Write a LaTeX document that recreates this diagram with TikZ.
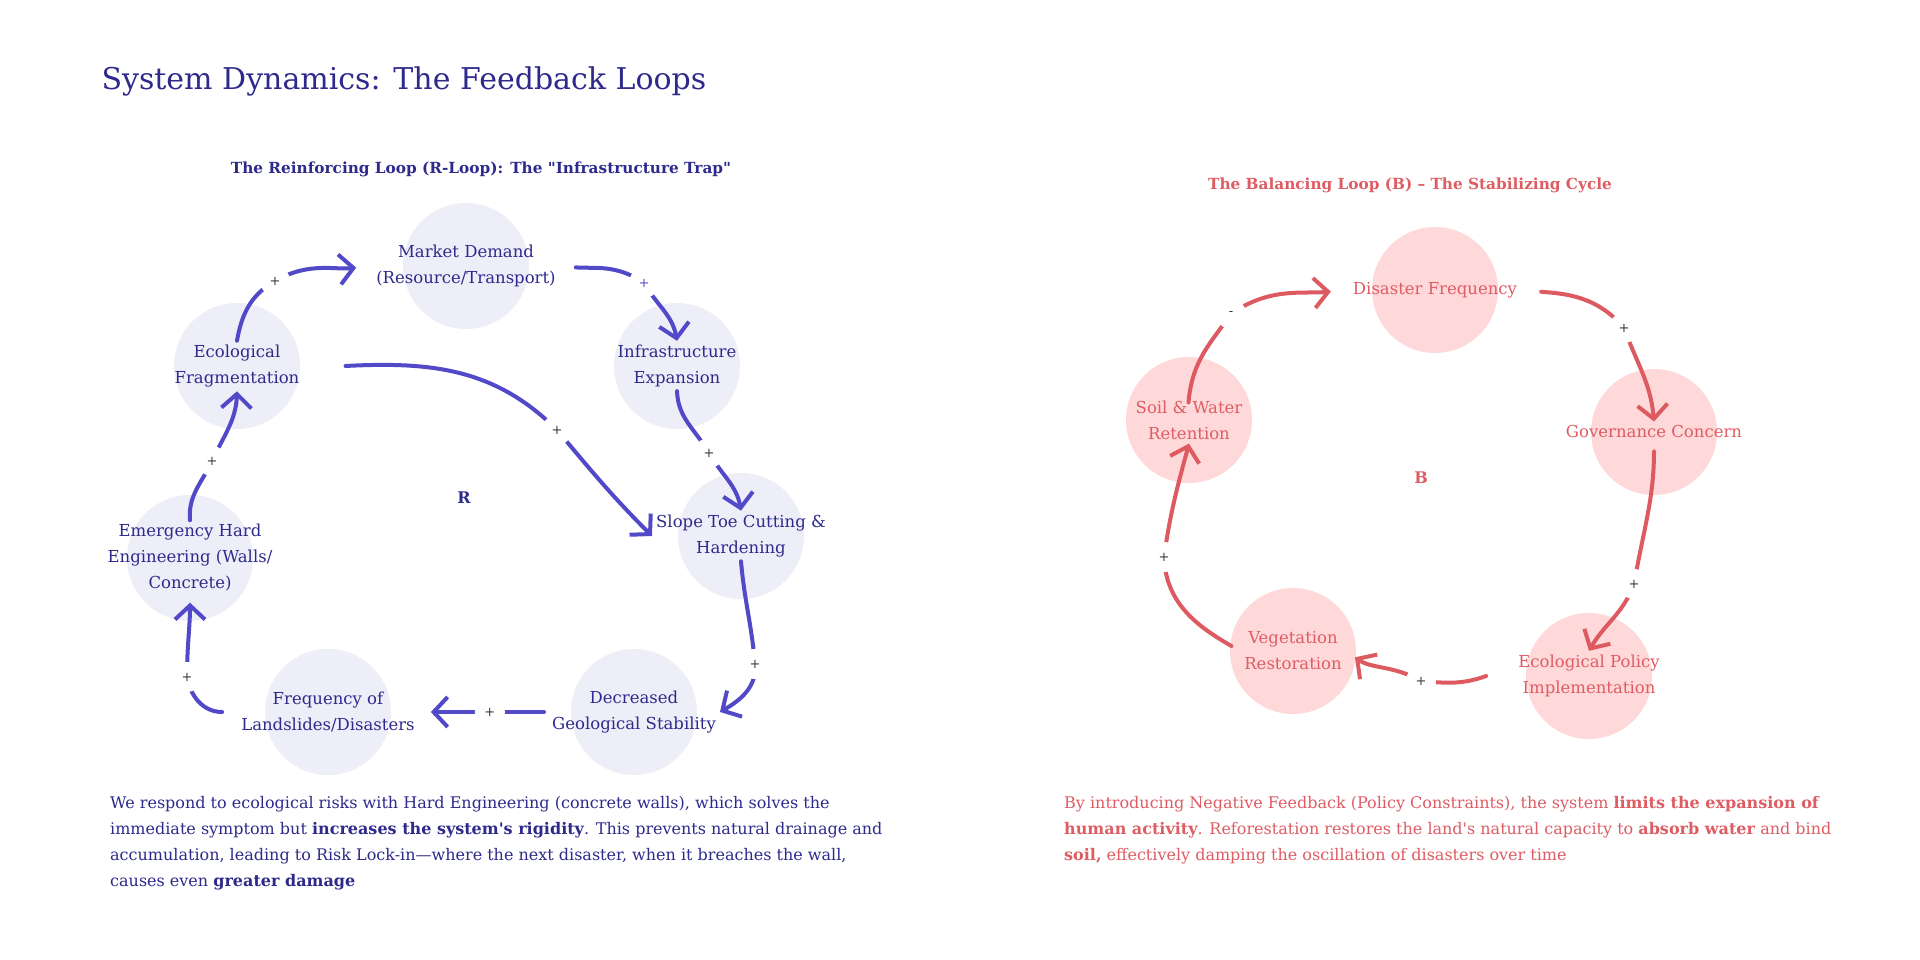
\documentclass[tikz,border=0pt]{standalone}
\usepackage{fontspec}
\setmainfont{DejaVu Serif}
\usetikzlibrary{arrows.meta}
\definecolor{rline}{HTML}{5249C8}
\definecolor{rfill}{HTML}{EEEEF8}
\definecolor{rtext}{HTML}{2E2A8C}
\definecolor{bline}{HTML}{DD5A61}
\definecolor{bfill}{HTML}{FFD9D9}
\definecolor{btext}{HTML}{DE5C63}
\pgfdeclarelayer{bg}
\pgfsetlayers{bg,main}
\begin{document}
\begin{tikzpicture}[x=1pt,y=1pt,line cap=round,line join=round,
		>={Straight Barb[length=14pt,width=30pt]}]
		\tikzset{concept/.style={align=center,inner sep=4pt,font=\fontsize{16.5}{26}\selectfont},
			rcon/.style={concept,text=rtext},
			bcon/.style={concept,text=btext},
			rarr/.style={->,rline,line width=4pt},
			barr/.style={->,bline,line width=4pt},
			sgn/.style={circle,fill=white,inner sep=0pt,minimum size=30pt,text=black!80,font=\fontsize{13}{13}\selectfont},
			note/.style={anchor=north west,align=left,inner sep=0pt,font=\fontsize{16}{26}\selectfont}}
		\useasboundingbox (0,0) rectangle (1920,960);
		\node[anchor=base west,text=rtext,font=\fontsize{30}{34}\selectfont] (title) at (98,870) {System Dynamics: The Feedback Loops};
		%--------- R loop
		\node[text=rtext,font=\bfseries\fontsize{15.3}{18}\selectfont] (rhead) at (481,791) {The Reinforcing Loop (R-Loop): The \textquotedbl Infrastructure Trap\textquotedbl};
		\node[rcon] (md) at (466,694) {Market Demand\\(Resource/Transport)};
		\node[rcon] (ef) at (237,594) {Ecological\\Fragmentation};
		\node[rcon] (ie) at (677,594) {Infrastructure\\Expansion};
		\node[rcon] (stc) at (741,424) {Slope Toe Cutting \&\\Hardening};
		\node[rcon] (dgs) at (634,248) {Decreased\\Geological Stability};
		\node[rcon] (fld) at (328,248) {Frequency of\\Landslides/Disasters};
		\node[rcon] (ehe) at (190,402) {Emergency Hard\\Engineering (Walls/\\Concrete)};
		\node[text=rtext,font=\bfseries\fontsize{16}{16}\selectfont] (rmark) at (464,462) {R};
		\draw[rarr,shorten >=16pt] (ef.north) to[out=80,in=210] (275,679) node[sgn]{+} to[out=30,in=186] (md.west);
		\draw[rarr,shorten <=16pt] (md.east) to[out=-5,in=145] (644,677) node[sgn,text=rline]{+} to[out=-60,in=100] (ie.north);
		\draw[rarr] (ie.south) to[out=-88,in=120] (709,507) node[sgn]{+} to[out=-60,in=100] (stc.north);
		\draw[rarr] ([xshift=42pt]ef.east) to[out=3,in=135] (557,530) node[sgn]{+} to[out=-50,in=135] (stc.west);
		\draw[rarr] (stc.south) to[out=-85,in=95] (755,296) node[sgn]{+} to[out=-85,in=30] (dgs.east);
		\draw[rarr,shorten <=4pt,shorten >=12pt] (dgs.west) -- node[sgn,pos=0.45]{+} (fld.east);
		\draw[rarr,shorten >=7pt] ([xshift=-15pt]fld.west) to[out=180,in=-80] (187,283) node[sgn]{+} to[out=90,in=-90] (ehe.south);
		\draw[rarr] (ehe.north) to[out=95,in=-115] (212,499) node[sgn]{+} to[out=65,in=-92] (ef.south);
		\node[note,text=rtext] (rnote) at (110,164) {We respond to ecological risks with Hard Engineering (concrete walls), which solves the\\
			immediate symptom but \textbf{increases the system\textquotesingle s rigidity}. This prevents natural drainage and\\
			accumulation, leading to Risk Lock-in—where the next disaster, when it breaches the wall,\\
			causes even \textbf{greater damage}};
		%--------- B loop
		\node[text=btext,font=\bfseries\fontsize{15.3}{18}\selectfont] (bhead) at (1410,775) {The Balancing Loop (B) – The Stabilizing Cycle};
		\node[bcon] (df) at (1435,670) {Disaster Frequency};
		\node[bcon] (gc) at (1654,528) {Governance Concern};
		\node[bcon] (swr) at (1189,540) {Soil \& Water\\Retention};
		\node[bcon] (vr) at (1293,309) {Vegetation\\Restoration};
		\node[bcon] (epi) at (1589,284) {Ecological Policy\\Implementation};
		\node[text=btext,font=\bfseries\fontsize{16}{16}\selectfont] (bmark) at (1421,482) {B};
		\draw[barr,shorten <=-6pt,shorten >=18pt] (swr.north) to[out=85,in=-125] (1231,646) node[sgn]{-} to[out=35,in=185] (df.west);
		\draw[barr,shorten <=20pt] (df.east) to[out=-5,in=130] (1624,632) node[sgn]{+} to[out=-70,in=95] (gc.north);
		\draw[barr,shorten <=9pt] (gc.south) to[out=-90,in=80] (1634,376) node[sgn]{+} to[out=-110,in=60] (epi.north);
		\draw[barr,shorten >=11pt] ([xshift=-28pt]epi.west) to[out=200,in=-5] (1421,279) node[sgn]{+} to[out=150,in=-35] (vr.east);
		\draw[barr,shorten <=10pt] (vr.west) to[out=150,in=-88] (1164,403) node[sgn]{+} to[out=82,in=-105] (swr.south);
		\node[note,text=btext] (bnote) at (1064,164) {By introducing Negative Feedback (Policy Constraints), the system \textbf{limits the expansion of}\\
			\textbf{human activity}. Reforestation restores the land\textquotesingle s natural capacity to \textbf{absorb water} and bind\\
			\textbf{soil,} effectively damping the oscillation of disasters over time};
		%--------- circles
		\begin{pgfonlayer}{bg}
			\fill[white] (0,0) rectangle (1920,960);
			\foreach \n in {md,ef,ie,stc,dgs,fld,ehe} \fill[rfill] (\n.center) circle[radius=63];
			\foreach \n in {df,gc,swr,vr,epi} \fill[bfill] (\n.center) circle[radius=63];
		\end{pgfonlayer}
	\end{tikzpicture}
\end{document}
